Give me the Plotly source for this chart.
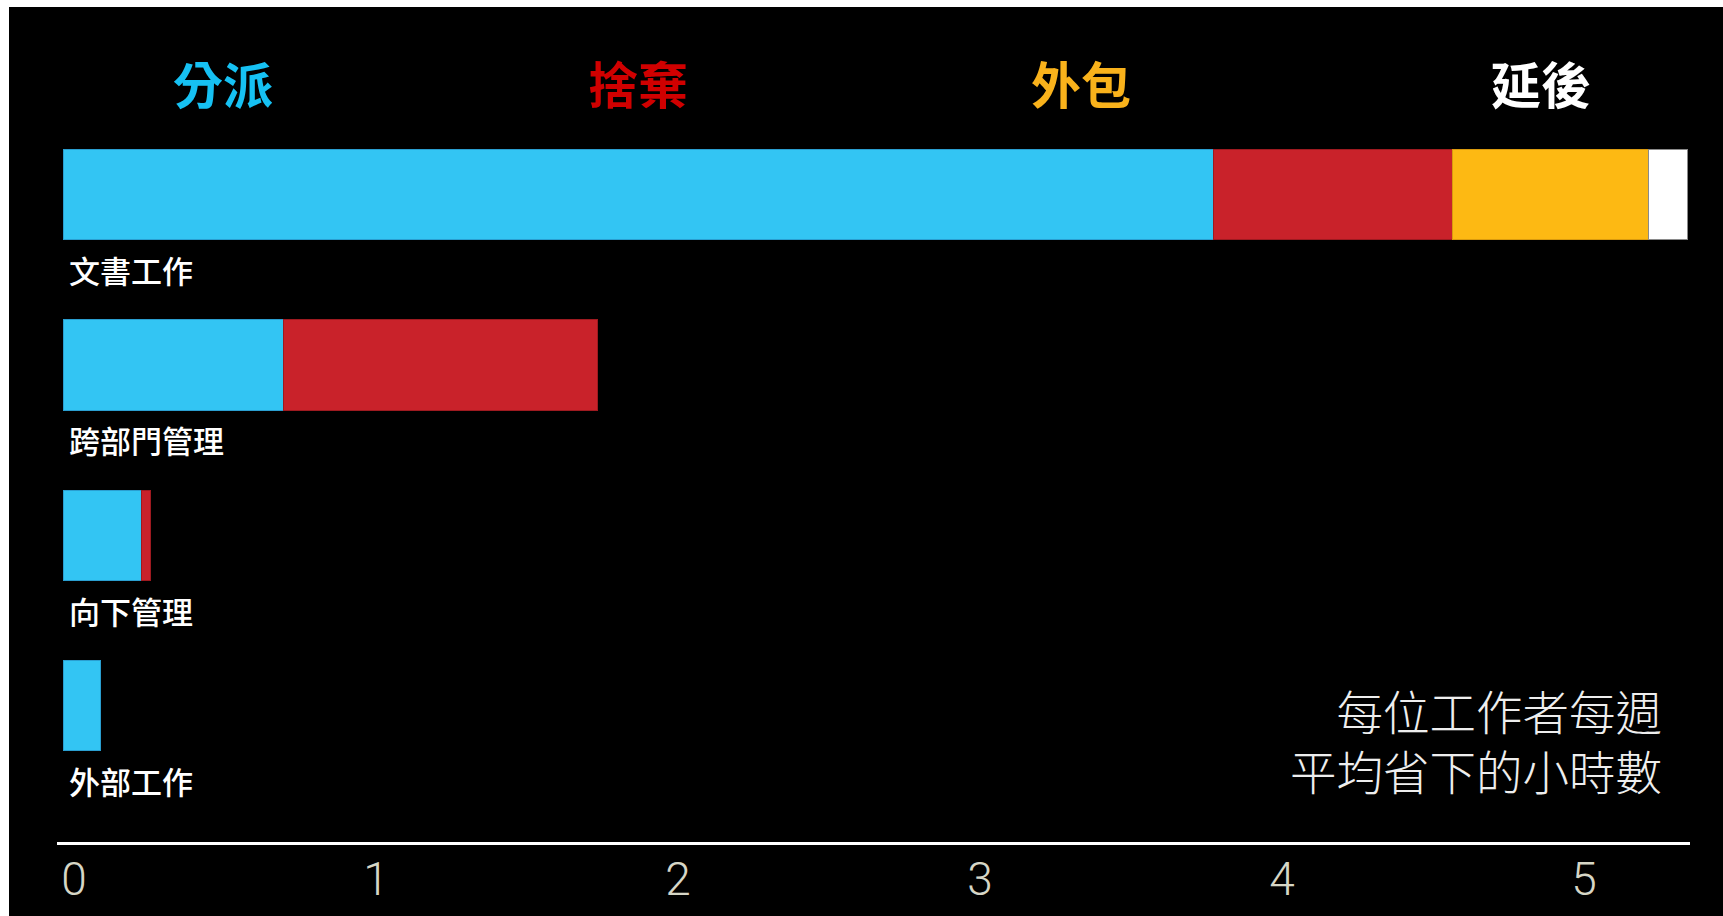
import plotly.graph_objects as go

# ---- data (hours saved per worker per week) ----
categories = ["文書工作", "跨部門管理", "向下管理", "外部工作"]
delegate = [3.81, 0.73, 0.26, 0.125]
eliminate = [0.79, 1.04, 0.03, None]
outsource = [0.65, None, None, None]
postpone = [0.13, None, None, None]

series_names = ["分派", "捨棄", "外包", "延後"]
series_values = [delegate, eliminate, outsource, postpone]
bar_colors = ["#33C5F3", "#C9222A", "#FDB913", "#FFFFFF"]
edge_colors = ["#2A9ED0", "#9E1A20", "#D99A0E", "#8A8A8A"]
header_colors = ["#16C1F3", "#D00000", "#F9B21B", "#FFFFFF"]
header_x = [0.1017, 0.3558, 0.6271, 0.9088]

tick_vals = [0, 1, 2, 3, 4, 5]
tick_text = ["0", "1", "2", "3", "4", "5"]
note_text = "每位工作者每週<br>平均省下的小時數"

CJK = "Noto Sans CJK TC, Noto Sans CJK SC, sans-serif"

fig = go.Figure()
for name, vals, col, edge in zip(series_names, series_values, bar_colors, edge_colors):
    fig.add_trace(go.Bar(
        y=categories, x=vals, name=name, orientation="h",
        marker=dict(color=col, line=dict(color=edge, width=1)),
        width=0.53, showlegend=False, hoverinfo="skip",
    ))

W, H = 1723, 916
L, R, T, B = 57, 33, 100, 74
pw, ph = W - L - R, H - T - B


def px_to_paper_x(px):
    return (px - L) / pw


def px_to_paper_y(py):
    return (H - B - py) / ph


annotations = []
# headers
for name, col, hx in zip(series_names, header_colors, header_x):
    annotations.append(dict(
        text=name, xref="paper", yref="paper", x=hx, y=px_to_paper_y(82),
        xanchor="center", yanchor="middle", showarrow=False,
        font=dict(family=CJK, size=50, color=col, weight="bold"),
    ))
# category labels under the bars
for cat in categories:
    annotations.append(dict(
        text=cat, xref="x", yref="y", x=0, y=cat,
        xanchor="left", yanchor="middle", xshift=4, yshift=-75,
        showarrow=False,
        font=dict(family=CJK, size=31, color="#FFFFFF", weight=500),
    ))
# note (bottom right)
annotations.append(dict(
    text=note_text, xref="paper", yref="paper", x=px_to_paper_x(1664),
    y=px_to_paper_y(739), align="right",
    xanchor="right", yanchor="middle", showarrow=False,
    font=dict(family=CJK, size=46.5, color="#EEEEEE", weight=300),
))

shapes = [
    # white frame remnants (top and left edges)
    dict(type="rect", xref="paper", yref="paper", layer="above",
         x0=px_to_paper_x(0), x1=px_to_paper_x(W),
         y0=px_to_paper_y(7), y1=px_to_paper_y(0),
         fillcolor="#FFFFFF", line=dict(width=0)),
    dict(type="rect", xref="paper", yref="paper", layer="above",
         x0=px_to_paper_x(0), x1=px_to_paper_x(9),
         y0=px_to_paper_y(H), y1=px_to_paper_y(0),
         fillcolor="#FFFFFF", line=dict(width=0)),
]

fig.update_layout(
    width=W, height=H,
    margin=dict(l=L, r=R, t=T, b=B, pad=0, autoexpand=False),
    paper_bgcolor="#000000", plot_bgcolor="#000000",
    barmode="stack",
    annotations=annotations,
    shapes=shapes,
    xaxis=dict(
        range=[-6 / 302, (1690 - 63) / 302],
        tickvals=tick_vals, ticktext=tick_text,
        tickfont=dict(family="Roboto, Liberation Sans Narrow, sans-serif",
                      size=46, color="#D6D6C6", weight=300),
        ticks="", showgrid=False, zeroline=False,
        showline=True, linecolor="#FFFFFF", linewidth=3,
        ticklabelshift=11, ticklabelstandoff=-5,
        automargin=False, fixedrange=True,
    ),
    yaxis=dict(
        categoryorder="array", categoryarray=categories,
        range=[3.80, -0.555],
        showticklabels=False, ticks="", showgrid=False,
        zeroline=False, showline=False, fixedrange=True,
        automargin=False,
    ),
)

fig.write_html("out.html")
